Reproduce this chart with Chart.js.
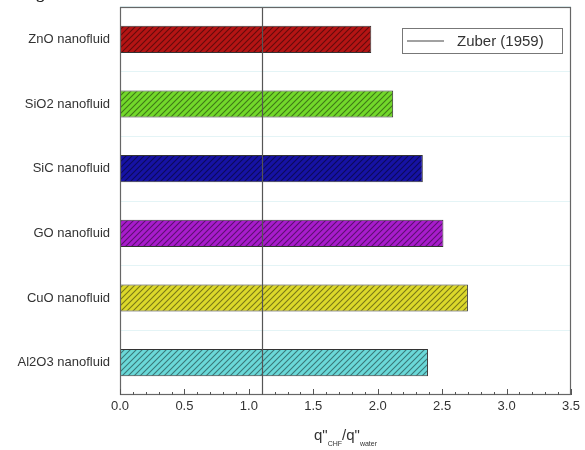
<!DOCTYPE html>
<html><head><meta charset="utf-8">
<script src="https://cdn.jsdelivr.net/npm/chart.js@4/dist/chart.umd.min.js"></script>
<style>
html,body{margin:0;padding:0;background:#fff;}
#wrap{position:relative;width:585px;height:450px;overflow:hidden;}
#cap{position:absolute;left:22px;top:-16px;font:bold 16px "Liberation Serif",serif;color:#222;}
</style></head><body>
<div id="wrap"><div id="cap">Fig</div><canvas id="c" width="585" height="450"></canvas></div>
<script>
const categories = ["ZnO nanofluid","SiO2 nanofluid","SiC nanofluid","GO nanofluid","CuO nanofluid","Al2O3 nanofluid"];
const ratioValues = [1.95, 2.12, 2.35, 2.51, 2.70, 2.39];
const barColors = ["#b41414","#72d82a","#1612a4","#a81ccc","#dcd82a","#6ad8d8"];
const zuberValue = 1.1;
const zuberLabel = "Zuber (1959)";
const xTicks = [0, 0.5, 1.0, 1.5, 2.0, 2.5, 3.0, 3.5];

function hatch(color){
  const s = 6, cv = document.createElement('canvas');
  cv.width = s; cv.height = s;
  const g = cv.getContext('2d');
  g.fillStyle = color; g.fillRect(0,0,s,s);
  g.strokeStyle = 'rgba(0,0,0,0.45)'; g.lineWidth = 1.1;
  g.beginPath();
  g.moveTo(0,s); g.lineTo(s,0);
  g.moveTo(-s/2,s/2); g.lineTo(s/2,-s/2);
  g.moveTo(s/2,s*1.5); g.lineTo(s*1.5,s/2);
  g.stroke();
  return g.createPattern(cv,'repeat');
}

const ctx = document.getElementById('c').getContext('2d');
const FONT = '"Liberation Sans", Arial, sans-serif';

const extras = {
  id:'extras',
  afterDatasetsDraw(chart){
    const {ctx, chartArea:a, scales:{x}} = chart;
    ctx.save();
    const zx = Math.round(x.getPixelForValue(zuberValue)) + 0.5;
    ctx.strokeStyle = '#555'; ctx.lineWidth = 1.2;
    ctx.beginPath(); ctx.moveTo(zx, a.top); ctx.lineTo(zx, a.bottom); ctx.stroke();
    ctx.strokeStyle = '#666'; ctx.lineWidth = 1.2;
    ctx.strokeRect(a.left+0.5, a.top+0.5, a.right-a.left-1, a.bottom-a.top-1);
    ctx.strokeStyle = '#555'; ctx.lineWidth = 1;
    for (let i = 0; i <= 35; i++){
      const v = i/10, px = Math.round(x.getPixelForValue(v)) + 0.5;
      const len = (i % 5 === 0) ? 6 : 3;
      ctx.beginPath(); ctx.moveTo(px, a.bottom); ctx.lineTo(px, a.bottom - len); ctx.stroke();
    }
    const lx = 402, ly = 28, lw = 160, lh = 25;
    ctx.fillStyle = '#fff'; ctx.fillRect(lx, ly, lw, lh);
    ctx.strokeStyle = '#777'; ctx.lineWidth = 1;
    ctx.strokeRect(lx+0.5, ly+0.5, lw, lh);
    ctx.strokeStyle = '#444'; ctx.lineWidth = 1.2;
    ctx.beginPath(); ctx.moveTo(407, ly+lh/2+0.5); ctx.lineTo(444, ly+lh/2+0.5); ctx.stroke();
    ctx.fillStyle = '#333'; ctx.font = '15px ' + FONT;
    ctx.textBaseline = 'middle'; ctx.textAlign = 'left';
    ctx.fillText(zuberLabel, 457, ly+lh/2+1);
    const cx = (a.left + a.right)/2, ty = 440;
    ctx.fillStyle = '#333';
    const parts = [['q"',15,0],['CHF',7,6],['/q"',15,0],['water',7,6]];
    ctx.textBaseline = 'alphabetic';
    let total = 0;
    parts.forEach(p=>{ctx.font = p[1]+'px ' + FONT; total += ctx.measureText(p[0]).width;});
    let px = cx - total/2;
    parts.forEach(p=>{ctx.font = p[1]+'px ' + FONT; ctx.fillText(p[0], px, ty + p[2]); px += ctx.measureText(p[0]).width;});
    ctx.restore();
  }
};

new Chart(ctx, {
  type:'bar',
  data:{
    labels: categories,
    datasets:[{
      data: ratioValues,
      backgroundColor: barColors.map(hatch),
      borderColor:'#333', borderWidth:1, borderSkipped:false,
      categoryPercentage:0.84, barPercentage:0.5
    }]
  },
  options:{
    indexAxis:'y', responsive:false, animation:false,
    layout:{padding:{left:0,right:14,top:7,bottom:0}},
    plugins:{legend:{display:false}, tooltip:{enabled:false}},
    scales:{
      x:{
        min:0, max:3.5,
        afterBuildTicks(s){ s.ticks = xTicks.map(v=>({value:v})); },
        afterFit(s){ s.height = 55; },
        grid:{display:false, drawTicks:false},
        border:{display:false},
        ticks:{padding:4, color:'#333', font:{family:FONT, size:13}, callback:v=>Number(v).toFixed(1), maxRotation:0}
      },
      y:{
        afterFit(s){ s.width = 120; s.paddingTop = 0; s.paddingBottom = 0; },
        grid:{offset:true, color:'#e4f4f6', drawTicks:false},
        border:{display:false},
        ticks:{padding:10, color:'#333', font:{family:FONT, size:13}}
      }
    }
  },
  plugins:[extras]
});
</script>
</body></html>
